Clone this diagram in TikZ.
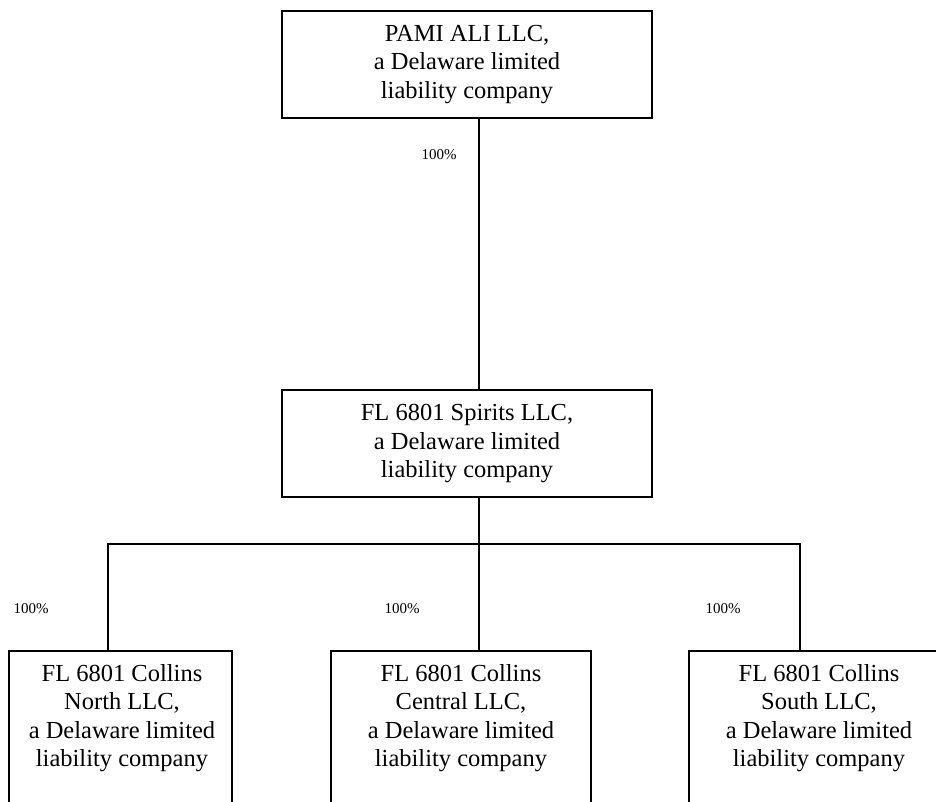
\documentclass[tikz,border=0pt]{standalone}
\usepackage{fontspec}
\setmainfont{Liberation Serif}
\begin{document}
\begin{tikzpicture}[x=1pt,y=-1pt,
  box/.style={draw, line width=2.4pt, inner sep=0pt, align=center,
    font=\fontsize{24.5}{28.5}\selectfont},
  framebox/.style={draw, line width=2.4pt, inner sep=0pt, minimum height=220pt},
  boxtext/.style={inner sep=0pt, align=center, font=\fontsize{24.5}{28.5}\selectfont},
  pct/.style={inner sep=0pt, font=\fontsize{15}{18}\selectfont},
  conn/.style={line width=2.2pt}]
\useasboundingbox (0,0) rectangle (936,802);
\clip (0,0) rectangle (936,802);
% top and middle boxes
\node[box, minimum width=370pt, minimum height=107pt] (top) at (467,64.5)
  {PAMI ALI LLC,\\a Delaware limited\\liability company};
\node[box, minimum width=370pt, minimum height=107pt] (mid) at (467,443.5)
  {FL 6801 Spirits LLC,\\a Delaware limited\\liability company};
% bottom boxes (run past the lower edge)
\node[framebox, minimum width=223pt] (north) at (120.5,761) {};
\node[framebox, minimum width=260pt] (central) at (461,761) {};
\node[framebox, minimum width=260pt] (south) at (819,761) {};
\node[boxtext] (northtxt) at (122,718) {FL 6801 Collins\\North LLC,\\a Delaware limited\\liability company};
\node[boxtext] (centraltxt) at (461,718) {FL 6801 Collins\\Central LLC,\\a Delaware limited\\liability company};
\node[boxtext] (southtxt) at (819,718) {FL 6801 Collins\\South LLC,\\a Delaware limited\\liability company};
% connectors
\coordinate (spine) at (479,0);
\coordinate (busL) at (108,544);
\coordinate (busC) at (479,544);
\coordinate (busR) at (800,544);
\draw[conn] (top.south -| spine) -- (mid.north -| spine);
\draw[conn] (mid.south -| spine) -- (busC);
\draw[conn, line cap=rect] (busL) -- (busR);
\draw[conn] (busL) -- (north.north -| busL);
\draw[conn] (busC) -- (central.north -| busC);
\draw[conn] (busR) -- (south.north -| busR);
% percentages
\node[pct] (p0) at (439,155) {100\%};
\node[pct] (p1) at (31,609) {100\%};
\node[pct] (p2) at (402,609) {100\%};
\node[pct] (p3) at (723,609) {100\%};
\end{tikzpicture}
\end{document}
